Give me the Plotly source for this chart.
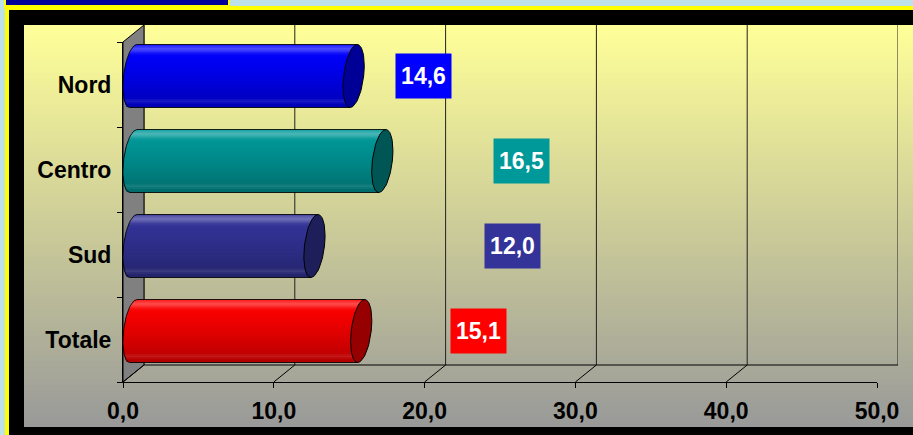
import math
import plotly.graph_objects as go

# ---------------- data ----------------
categories = ["Nord", "Centro", "Sud", "Totale"]
values = [14.6, 16.5, 12.0, 15.1]
value_labels = ["14,6", "16,5", "12,0", "15,1"]
x_ticks = [0, 10, 20, 30, 40, 50]

# ---------------- styles / positions ----------------
bar_colors = [(0, 0, 255), (0, 153, 153), (51, 51, 153), (255, 0, 0)]
cap_colors = ["#000096", "#005555", "#1E1E5A", "#960000"]
label_bg = ["#0000FF", "#009999", "#333399", "#FF0000"]
label_x = [19.9, 26.4, 25.8, 23.6]  # where the value boxes sit on the value axis

W, H = 913, 435
def px(x):
    return x / W
def py(y):
    return 1 - y / H

FX0, FX1 = 123, 877      # front plane value axis (0 .. 50)
FY0, FY1 = 42, 382       # front plane category axis (top, bottom)
DX, DY = 21, 17          # depth offset of the back wall
XMAX = 50
UPX = XMAX / (FX1 - FX0)  # value units per pixel
XPAD = 2.0               # room left of zero for the rounded cylinder ends

fig = go.Figure()

# ---------------- cylinders (middle depth plane, axis x2/y2) ----------------
n = len(categories)
cat_px = (FY1 - FY0) / n
B = 31.5 / cat_px        # half height in category units
A = 10 * UPX             # half width of end ellipse
S = 3.5 * UPX            # tilt of end ellipse
K = 36
idx = list(range(n))

def shade(rgb, t):
    u = (t + 1) / 2
    dark = 1 - 0.30 * u ** 1.4
    hl = 0.28 * math.exp(-((u - 0.07) / 0.06) ** 2) + 0.10 * math.exp(-((u - 0.9) / 0.03) ** 2)
    c = [min(255, v * dark * (1 - hl) + 255 * hl) for v in rgb]
    return "rgb(%d,%d,%d)" % tuple(int(round(v)) for v in c)

step = 2 * B / K
for k in range(K):
    t_top = -1 + 2 * k / K
    t_mid = -1 + (2 * k + 1) / K
    bulge = A * math.sqrt(max(0.0, 1 - t_mid ** 2))
    base = [-bulge - S * t_mid for _ in values]
    length = [v + bulge for v in values]
    w = step * (1.7 if k < K - 1 else 1.0)
    fig.add_trace(go.Bar(
        orientation="h", y=idx, x=length, base=base,
        width=[w] * n, offset=[t_top * B] * n,
        marker=dict(color=[shade(c, t_mid) for c in bar_colors], line=dict(width=0)),
        xaxis="x2", yaxis="y2", hoverinfo="skip", showlegend=False,
    ))

# body outlines
ox, oy = [], []
for i, v in enumerate(values):
    ox += [v + S, S]
    oy += [i - B, i - B]
    for j in range(0, 41):
        t = -1 + 2 * j / 40
        ox.append(-A * math.sqrt(max(0.0, 1 - t * t)) - S * t)
        oy.append(i + B * t)
    ox += [v - S, None]
    oy += [i + B, None]
fig.add_trace(go.Scatter(x=ox, y=oy, mode="lines", line=dict(color="rgba(0,0,0,0.85)", width=1),
                         xaxis="x2", yaxis="y2", hoverinfo="skip", showlegend=False))

# end caps
for i, v in enumerate(values):
    cx, cy = [], []
    for j in range(0, 73):
        ph = 2 * math.pi * j / 72
        cx.append(v + A * math.cos(ph) - S * math.sin(ph))
        cy.append(i + B * math.sin(ph))
    fig.add_trace(go.Scatter(x=cx, y=cy, mode="lines", fill="toself", fillcolor=cap_colors[i],
                             line=dict(color="black", width=1), xaxis="x2", yaxis="y2",
                             hoverinfo="skip", showlegend=False))

# invisible trace to build front category axis
fig.add_trace(go.Scatter(x=values, y=categories, mode="markers", marker=dict(opacity=0),
                         xaxis="x3", yaxis="y3", hoverinfo="skip", showlegend=False))
# invisible trace on back plane
fig.add_trace(go.Scatter(x=[0], y=[0], mode="markers", marker=dict(opacity=0),
                         hoverinfo="skip", showlegend=False))

# ---------------- decoration shapes ----------------
shapes = []
def rect(x0, y0, x1, y1, color):
    shapes.append(dict(type="rect", xref="paper", yref="paper", x0=px(x0), x1=px(x1),
                       y0=py(y1), y1=py(y0), fillcolor=color, line=dict(width=0), layer="below"))

rect(5, 6, W, H, "#FFFF00")
rect(9, 10, W, H, "#000000")
# gradient panel
top, bot = 25, 427
NB = 134
c0, c1 = (255, 255, 153), (153, 153, 153)
for b in range(NB):
    y0 = top + (bot - top) * b / NB
    y1 = top + (bot - top) * (b + 1) / NB + (0.8 if b < NB - 1 else 0)
    f = (b + 0.5) / NB
    col = "rgb(%d,%d,%d)" % tuple(int(round(c0[j] + (c1[j] - c0[j]) * f)) for j in range(3))
    rect(24, y0, W, y1, col)
# top-left title box
rect(4, 0, 230, 9, "#FFFF00")
rect(6, 0, 228, 5, "#000099")

# left wall
shapes.append(dict(type="path", xref="paper", yref="paper",
                   path="M %f,%f L %f,%f L %f,%f L %f,%f Z" % (
                       px(FX0), py(FY0), px(FX0 + DX), py(FY0 - DY),
                       px(FX0 + DX), py(FY1 - DY), px(FX0), py(FY1)),
                   fillcolor="#808080", line=dict(color="black", width=1), layer="below"))
# back wall grid lines and floor
for k in x_ticks:
    shapes.append(dict(type="line", xref="x", yref="paper", x0=k, x1=k,
                       y0=py(FY1 - DY), y1=py(FY0 - DY - 0),
                       line=dict(color="#222222", width=1), layer="below"))
    shapes.append(dict(type="line", xref="x3", yref="paper", x0=k, x1=k + DX * UPX,
                       y0=py(FY1), y1=py(FY1 - DY), line=dict(color="black", width=1), layer="below"))
shapes.append(dict(type="line", xref="x", yref="paper", x0=0, x1=XMAX,
                   y0=py(FY1 - DY), y1=py(FY1 - DY), line=dict(color="black", width=1), layer="below"))

# ---------------- value labels ----------------
annotations = []
for i, (lx, txt) in enumerate(zip(label_x, value_labels)):
    annotations.append(dict(x=lx, xref="x3", y=i, yref="y2", text=txt, showarrow=False,
                            bgcolor=label_bg[i], width=45, height=34, borderpad=5,
                            font=dict(family="Liberation Sans, Arial", size=23, color="white", weight="bold")))

tickfont = dict(family="Liberation Sans, Arial", size=23, color="black", weight="bold")

mid_x0 = FX0 + DX / 2 - XPAD / UPX
fig.update_layout(
    template="none",
    width=W, height=H, margin=dict(l=0, r=0, t=0, b=0, pad=0, autoexpand=False),
    paper_bgcolor="#BDE1E6", plot_bgcolor="rgba(0,0,0,0)",
    separators=",.", barmode="overlay", showlegend=False,
    shapes=shapes, annotations=annotations,
    # back plane
    xaxis=dict(domain=[px(FX0 + DX), px(FX1 + DX)], range=[0, XMAX], visible=False, anchor="y",
               automargin=False),
    yaxis=dict(domain=[py(FY1 - DY), py(FY0 - DY)], range=[0, 1], visible=False, anchor="x",
               automargin=False),
    # middle plane (cylinders)
    xaxis2=dict(domain=[px(mid_x0), px(FX1 + DX / 2)], range=[-XPAD, XMAX], visible=False,
                anchor="y2", automargin=False),
    yaxis2=dict(domain=[py(FY1 - DY / 2), py(FY0 - DY / 2)], range=[n - 0.5, -0.5], visible=False,
                anchor="x2", automargin=False),
    # front plane (axes)
    xaxis3=dict(domain=[px(FX0), px(FX1)], range=[0, XMAX], anchor="y3", tickvals=x_ticks,
                tickformat=".1f", ticks="outside", ticklen=5, tickcolor="black", showline=True,
                linecolor="black", linewidth=1, showgrid=False, zeroline=False, tickfont=tickfont,
                ticklabelstandoff=3, automargin=False),
    yaxis3=dict(domain=[py(FY1), py(FY0)], anchor="x3", type="category", categoryorder="array",
                categoryarray=categories[::-1], range=[-0.5, n - 0.5], tickson="boundaries",
                ticks="outside", ticklen=5, tickcolor="black", showline=True, linecolor="black",
                linewidth=1, showgrid=False, zeroline=False, tickfont=tickfont, ticklabelstandoff=6,
                automargin=False),
)

fig.write_html("out.html")
